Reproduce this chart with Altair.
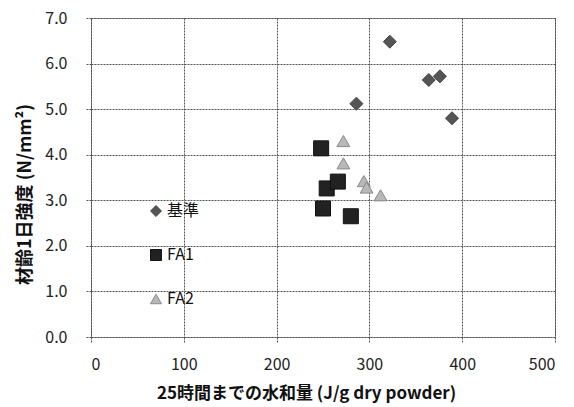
import altair as alt
import pandas as pd

# Hydration heat up to 25 h (J/g dry powder) vs. 1-day strength (N/mm2)
series_names = ["基準", "FA1", "FA2"]

base_x = [286, 322, 364, 376, 389]
base_y = [5.12, 6.48, 5.64, 5.72, 4.80]

fa1_x = [248, 254, 266, 250, 280]
fa1_y = [4.14, 3.26, 3.41, 2.82, 2.65]

fa2_x = [272, 272, 294, 297, 312]
fa2_y = [4.30, 3.81, 3.42, 3.28, 3.11]

x_ticks = [0, 100, 200, 300, 400, 500]
y_ticks = [0, 1, 2, 3, 4, 5, 6, 7]

marker_sizes = [170, 225, 165]

rows = []
for name, xs, ys in zip(series_names, [base_x, fa1_x, fa2_x], [base_y, fa1_y, fa2_y]):
    for xv, yv in zip(xs, ys):
        rows.append({"series": name, "hydration": xv, "strength": yv})
df = pd.DataFrame(rows)

FONT = "Noto Sans CJK JP"

legend = alt.Legend(
    title=None,
    orient="none",
    legendX=57,
    legendY=185,
    rowPadding=28,
    symbolSize=120,
    labelFontSize=16,
    labelFont=FONT,
    labelColor="#111",
    labelOffset=3,
    symbolStrokeWidth=1,
)

base = alt.Chart(df).encode(
    x=alt.X(
        "hydration:Q",
        scale=alt.Scale(domain=[0, 500], nice=False),
        axis=alt.Axis(
            values=x_ticks,
            title="25時間までの水和量  (J/g dry powder)",
            format="d",
            labelPadding=14,
            titlePadding=13,
            titleX=215,
            titleAlign="center",
        ),
    ),
    y=alt.Y(
        "strength:Q",
        scale=alt.Scale(domain=[0, 7], nice=False),
        axis=alt.Axis(
            values=y_ticks,
            title="材齢1日強度  (N/mm²)",
            format=".1f",
            labelPadding=19,
            titlePadding=10,
            titleFontSize=18,
            titleY=176,
            titleAlign="center",
        ),
    ),
    shape=alt.Shape(
        "series:N",
        scale=alt.Scale(domain=series_names, range=["diamond", "square", "triangle-up"]),
        legend=legend,
    ),
    color=alt.Color(
        "series:N",
        scale=alt.Scale(domain=series_names, range=["#555555", "#222222", "#b8b8b8"]),
        legend=legend,
    ),
    stroke=alt.Stroke(
        "series:N",
        scale=alt.Scale(domain=series_names, range=["#444444", "#111111", "#8a8a8a"]),
        legend=legend,
    ),
)

# one layer per series so each marker gets its own size
layers = [
    base.transform_filter(alt.datum.series == name).mark_point(
        filled=True, opacity=1, strokeWidth=1, size=sz
    )
    for name, sz in zip(series_names, marker_sizes)
]

chart = alt.layer(*layers).properties(
    width=464,
    height=319,
    background="white",
    autosize=alt.AutoSizeParams(type="none"),
    padding={"left": 91, "top": 18, "right": 19, "bottom": 70},
).configure_view(
    stroke="#555555", strokeDash=[2, 1], strokeWidth=1
).configure_axis(
    grid=True,
    gridColor="#555555",
    gridDash=[2, 1],
    gridOpacity=1,
    gridWidth=1,
    domain=False,
    ticks=True,
    tickSize=5,
    tickColor="#555555",
    tickDash=[2, 1],
    labelFont=FONT,
    labelFontSize=16,
    labelColor="#222",
    titleFont=FONT,
    titleFontSize=17,
    titleFontWeight="bold",
    titleColor="#111",
)

chart.save("out.html", embed_options={"renderer": "svg", "actions": False})
